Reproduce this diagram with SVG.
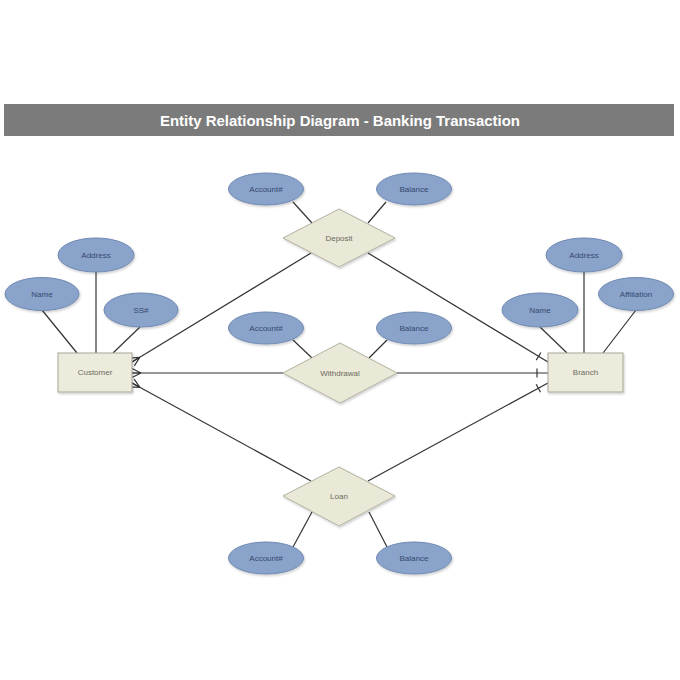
<svg xmlns="http://www.w3.org/2000/svg" width="680" height="680" viewBox="0 0 680 680">
<style>
.attr{fill:#8aa3cb;stroke:#7089b2;stroke-width:1}
.ent{fill:#edecdc;stroke:#a9a898;stroke-width:1}
.rel{fill:#eae9d7;stroke:#b2b1a2;stroke-width:1}
.at{font-family:"Liberation Sans",Arial,sans-serif;font-size:8px;fill:#34496e;text-anchor:middle;dominant-baseline:central}
.et{font-family:"Liberation Sans",Arial,sans-serif;font-size:8px;fill:#6b6b60;text-anchor:middle;dominant-baseline:central}
.ln{stroke:#333;stroke-width:1.2;fill:none}
.cn{stroke:#333;stroke-width:1.2;fill:none}
</style>
<defs>
<filter id="sh" x="-20%" y="-20%" width="140%" height="150%">
<feDropShadow dx="1" dy="1.5" stdDeviation="1" flood-color="#000" flood-opacity="0.2"/>
</filter>
<marker id="many" markerUnits="userSpaceOnUse" markerWidth="20" markerHeight="20" viewBox="-10 -10 20 20" refX="0" refY="0" orient="auto-start-reverse" overflow="visible">
<path d="M-9,0 L0,-4.5 M-9,0 L0,4.5 M-9,0 L0,0" stroke="#333" stroke-width="1.2" fill="none"/>
</marker>
<marker id="one" markerUnits="userSpaceOnUse" markerWidth="20" markerHeight="20" viewBox="-14 -10 20 20" refX="0" refY="0" orient="auto" overflow="visible">
<path d="M-11,-4.5 L-11,4.5" stroke="#333" stroke-width="1.2" fill="none"/>
</marker>
</defs>
<rect width="680" height="680" fill="#fff"/>
<g id="title">
<rect x="4" y="104" width="670" height="32" fill="#7b7b7b"/>
<text x="340" y="125.5" font-family="'Liberation Sans',Arial,sans-serif" font-size="15" font-weight="bold" fill="#fff" text-anchor="middle" textLength="360" lengthAdjust="spacingAndGlyphs">Entity Relationship Diagram - Banking Transaction</text>
</g>
<g id="connectors">
<line class="ln" x1="42" y1="310" x2="77" y2="353"/>
<line class="ln" x1="96" y1="272" x2="96" y2="353"/>
<line class="ln" x1="140" y1="327" x2="113" y2="353"/>
<line class="ln" x1="540" y1="327" x2="567" y2="353"/>
<line class="ln" x1="584" y1="272" x2="584" y2="353"/>
<line class="ln" x1="636" y1="310" x2="603" y2="353"/>
<line class="ln" x1="293" y1="202" x2="312" y2="223"/>
<line class="ln" x1="386" y1="202" x2="368" y2="223"/>
<line class="ln" x1="293" y1="340" x2="312" y2="358"/>
<line class="ln" x1="387" y1="340" x2="369" y2="358"/>
<line class="ln" x1="312" y1="512" x2="293" y2="547"/>
<line class="ln" x1="369" y1="512" x2="387" y2="547"/>
<line class="cn" x1="132" y1="362" x2="311" y2="253" marker-start="url(#many)"/>
<line class="cn" x1="368" y1="253" x2="548" y2="362" marker-end="url(#one)"/>
<line class="cn" x1="132" y1="373" x2="283" y2="373" marker-start="url(#many)"/>
<line class="cn" x1="397" y1="373" x2="548" y2="373" marker-end="url(#one)"/>
<line class="cn" x1="132" y1="383" x2="311" y2="481" marker-start="url(#many)"/>
<line class="cn" x1="368" y1="481" x2="548" y2="383" marker-end="url(#one)"/>
</g>
<g id="customer"><rect class="ent" x="58" y="353" width="74" height="39" filter="url(#sh)"/><text class="et" x="95" y="372.5">Customer</text></g>
<g id="customer-name"><ellipse class="attr" cx="42" cy="294" rx="37" ry="16.5" filter="url(#sh)"/><text class="at" x="42" y="294">Name</text></g>
<g id="customer-address"><ellipse class="attr" cx="96" cy="255" rx="38" ry="17" filter="url(#sh)"/><text class="at" x="96" y="255">Address</text></g>
<g id="customer-ssn"><ellipse class="attr" cx="141" cy="310" rx="37" ry="17" filter="url(#sh)"/><text class="at" x="141" y="310">SS#</text></g>
<g id="branch"><rect class="ent" x="548" y="353" width="75" height="39" filter="url(#sh)"/><text class="et" x="585.5" y="372.5">Branch</text></g>
<g id="branch-name"><ellipse class="attr" cx="540" cy="310" rx="38" ry="17" filter="url(#sh)"/><text class="at" x="540" y="310">Name</text></g>
<g id="branch-address"><ellipse class="attr" cx="584" cy="255" rx="38" ry="17" filter="url(#sh)"/><text class="at" x="584" y="255">Address</text></g>
<g id="branch-affiliation"><ellipse class="attr" cx="636" cy="294" rx="37.5" ry="16.5" filter="url(#sh)"/><text class="at" x="636" y="294">Affiliation</text></g>
<g id="deposit"><polygon class="rel" points="283,238 339,209 395,238 339,267" filter="url(#sh)"/><text class="et" x="339" y="238">Deposit</text></g>
<g id="deposit-account"><ellipse class="attr" cx="266" cy="189" rx="37.5" ry="16" filter="url(#sh)"/><text class="at" x="266" y="189">Account#</text></g>
<g id="deposit-balance"><ellipse class="attr" cx="414" cy="189" rx="37.5" ry="16" filter="url(#sh)"/><text class="at" x="414" y="189">Balance</text></g>
<g id="withdrawal"><polygon class="rel" points="283,373 340,343 397,373 340,403" filter="url(#sh)"/><text class="et" x="340" y="373">Withdrawal</text></g>
<g id="withdrawal-account"><ellipse class="attr" cx="266" cy="328" rx="37.5" ry="16" filter="url(#sh)"/><text class="at" x="266" y="328">Account#</text></g>
<g id="withdrawal-balance"><ellipse class="attr" cx="414" cy="328" rx="37.5" ry="16" filter="url(#sh)"/><text class="at" x="414" y="328">Balance</text></g>
<g id="loan"><polygon class="rel" points="283,496 339,467 395,496 339,526" filter="url(#sh)"/><text class="et" x="339" y="496">Loan</text></g>
<g id="loan-account"><ellipse class="attr" cx="266" cy="558" rx="37.5" ry="16" filter="url(#sh)"/><text class="at" x="266" y="558">Account#</text></g>
<g id="loan-balance"><ellipse class="attr" cx="414" cy="558" rx="37.5" ry="16" filter="url(#sh)"/><text class="at" x="414" y="558">Balance</text></g>
</svg>
